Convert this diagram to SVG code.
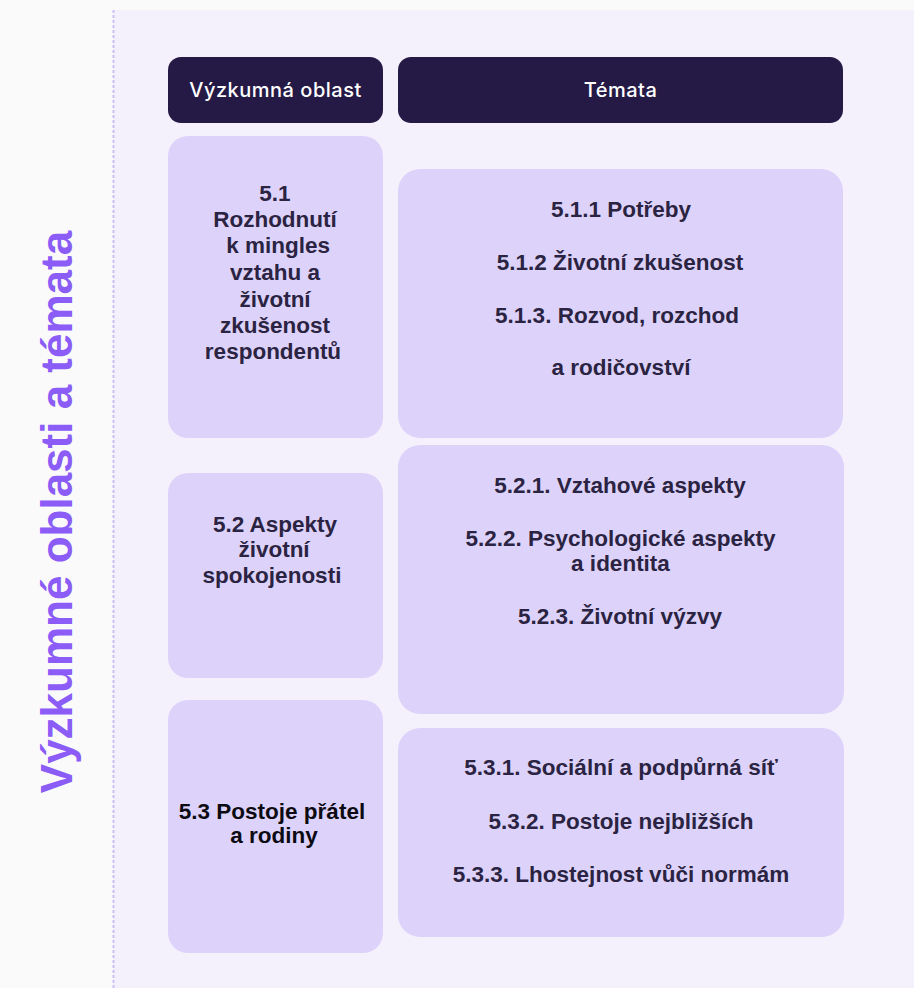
<svg xmlns="http://www.w3.org/2000/svg" width="914" height="988" viewBox="0 0 914 988">
<style>
.hdr{fill:#251a45}
.box{fill:#ddd3fa}
.ht{font-family:Inter,"Liberation Sans",sans-serif;font-weight:500;font-size:20px;letter-spacing:0.5px;fill:#ffffff;text-anchor:middle}
.t{font-family:"Liberation Sans",Arial,sans-serif;font-weight:bold;font-size:22.5px;fill:#2b2342;text-anchor:middle}
.tb{fill:#0d0b12}
.side{font-family:"Liberation Sans",Arial,sans-serif;font-weight:bold;font-size:44px;fill:#8b5cf6;text-anchor:middle}
</style>
<rect x="0" y="0" width="914" height="988" fill="#fafafa"/>
<rect x="113" y="10" width="801" height="978" fill="#f4f1fd"/>
<line x1="113.5" y1="10" x2="113.5" y2="988" stroke="#cbc0f5" stroke-width="2" stroke-dasharray="3 2"/>
<text class="side" transform="translate(72,512) rotate(-90)">Výzkumné oblasti a témata</text>
<g id="header-oblast">
<rect class="hdr" x="168" y="57" width="215" height="66" rx="13"/>
<text class="ht" x="275.5" y="97">Výzkumná oblast</text>
</g>
<g id="header-temata">
<rect class="hdr" x="398" y="57" width="445" height="66" rx="13"/>
<text class="ht" x="620.5" y="97">Témata</text>
</g>
<g id="oblast-5-1">
<rect class="box" x="168" y="136" width="215" height="302" rx="20"/>
<text class="t" x="275"><tspan x="275" y="201">5.1</tspan><tspan x="275" y="227">Rozhodnutí</tspan><tspan x="275" y="253"> k mingles</tspan><tspan x="275" y="280">vztahu a</tspan><tspan x="275" y="307">životní</tspan><tspan x="275" y="333">zkušenost</tspan><tspan x="273" y="359">respondentů</tspan></text>
</g>
<g id="temata-5-1">
<rect class="box" x="398" y="169" width="445" height="269" rx="22"/>
<text class="t"><tspan x="621" y="217">5.1.1 Potřeby</tspan><tspan x="620" y="270">5.1.2 Životní zkušenost</tspan><tspan x="617" y="323">5.1.3. Rozvod, rozchod</tspan><tspan x="621" y="375">a rodičovství</tspan></text>
</g>
<g id="oblast-5-2">
<rect class="box" x="168" y="473" width="215" height="205" rx="20"/>
<text class="t"><tspan x="275" y="532">5.2 Aspekty</tspan><tspan x="274" y="557">životní</tspan><tspan x="272" y="583">spokojenosti</tspan></text>
</g>
<g id="temata-5-2">
<rect class="box" x="398" y="445" width="446" height="269" rx="22"/>
<text class="t"><tspan x="620" y="493">5.2.1. Vztahové aspekty</tspan><tspan x="620.5" y="546">5.2.2. Psychologické aspekty</tspan><tspan x="620.5" y="571">a identita</tspan><tspan x="620" y="624">5.2.3. Životní výzvy</tspan></text>
</g>
<g id="oblast-5-3">
<rect class="box" x="168" y="700" width="215" height="253" rx="20"/>
<text class="t tb"><tspan x="272" y="819">5.3 Postoje přátel</tspan><tspan x="274" y="843">a rodiny</tspan></text>
</g>
<g id="temata-5-3">
<rect class="box" x="398" y="728" width="446" height="209" rx="22"/>
<text class="t"><tspan x="621" y="775">5.3.1. Sociální a podpůrná síť</tspan><tspan x="621" y="829">5.3.2. Postoje nejbližších</tspan><tspan x="621" y="882">5.3.3. Lhostejnost vůči normám</tspan></text>
</g>
<g id="connectors"/>
</svg>
